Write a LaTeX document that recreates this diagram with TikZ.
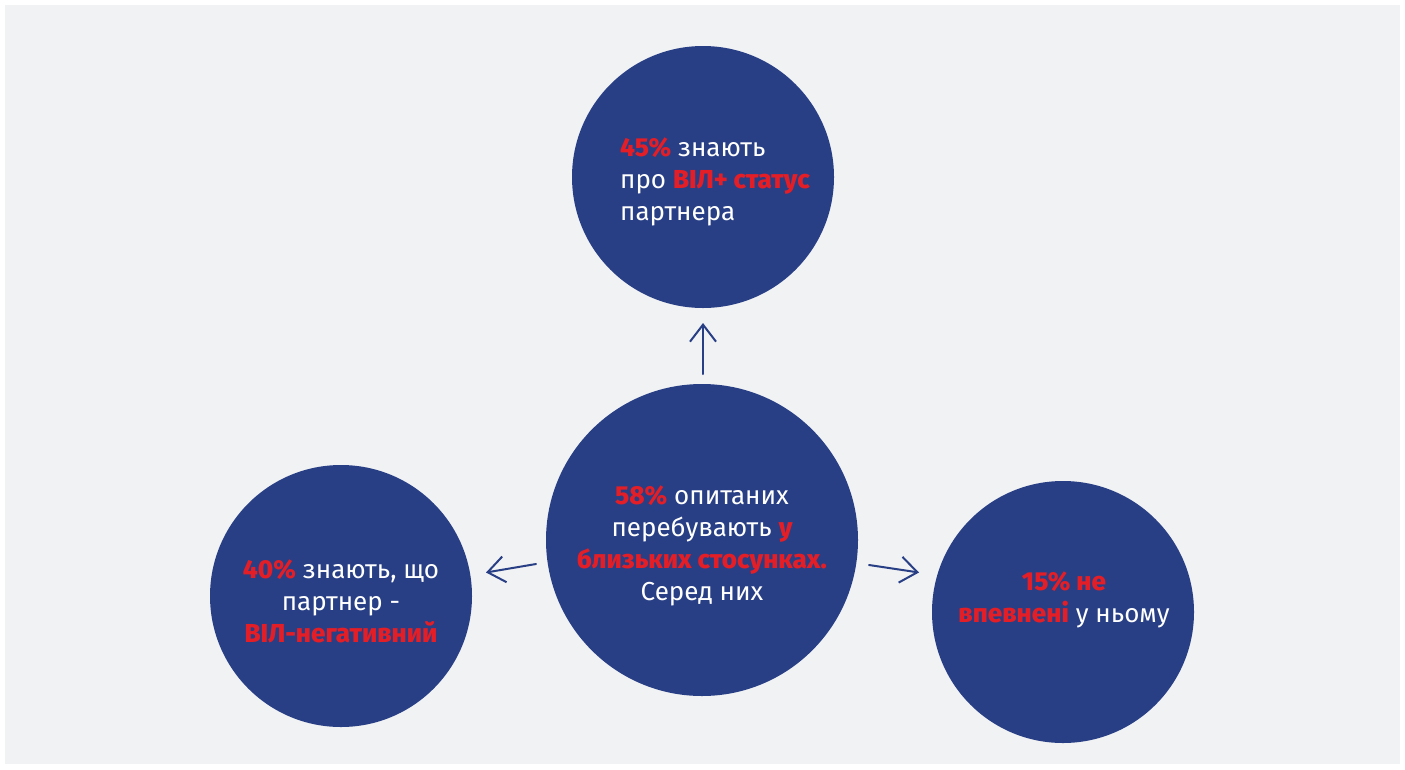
\documentclass[tikz,border=0pt]{standalone}
\usepackage{fontspec}
\setmainfont{Fira Sans}
\newfontface\xbold{Fira Sans ExtraBold}
\usetikzlibrary{arrows.meta}
\definecolor{bgc}{HTML}{F1F2F4}
\definecolor{blu}{HTML}{283F85}
\definecolor{rd}{HTML}{E31E26}
\newcommand{\R}[1]{{\xbold\color{rd}#1}}
\tikzset{
  bubble/.style={circle, fill=blu, draw=none, inner sep=0pt},
  label/.style={text=white, font=\fontsize{26}{32}\selectfont, inner sep=0pt},
  arr/.style={draw=blu, line width=2pt, line cap=round, -{Straight Barb[length=17pt, width=26pt, line width=2pt]}}
}
\begin{document}
\begin{tikzpicture}[x=1pt, y=-1pt]
\useasboundingbox (0,0) rectangle (1405,769);
\fill[white] (0,0) rectangle (1405,769);
\fill[bgc] (5,5) rectangle (1400,764);
% circles
\node[bubble, minimum size=262pt] (top) at (703,177) {};
\node[bubble, minimum size=312pt] (mid) at (702,540) {};
\node[bubble, minimum size=262pt] (left) at (341,596) {};
\node[bubble, minimum size=262pt] (right) at (1063,612) {};
% texts (anchor = baseline of last line)
\node[label, anchor=base west, align=left] (ttop) at (620,220) {\R{45\%} знають\\про \R{ВІЛ+ статус}\\партнера};
\node[label, anchor=base, align=center] (tmid) at (702,600) {\R{58\%} опитаних\\перебувають \R{у}\\\R{близьких стосунках.}\\Серед них};
\node[label, anchor=base, align=center] (tleft) at (341,642) {\R{40\%} знають, що\\партнер -\\\R{ВІЛ-негативний}};
\node[label, anchor=base, align=center] (tright) at (1064,622) {\R{15\% не}\\\R{впевнені} у ньому};
% arrow ends
\coordinate (u1) at (703,374);
\coordinate (u2) at (703,323);
\coordinate (l1) at (536,564);
\coordinate (l2) at (486,572.5);
\coordinate (r1) at (869,565);
\coordinate (r2) at (919,572.5);
\draw[arr] (u1) -- (u2);
\draw[arr] (l1) -- (l2);
\draw[arr] (r1) -- (r2);
\end{tikzpicture}
\end{document}
